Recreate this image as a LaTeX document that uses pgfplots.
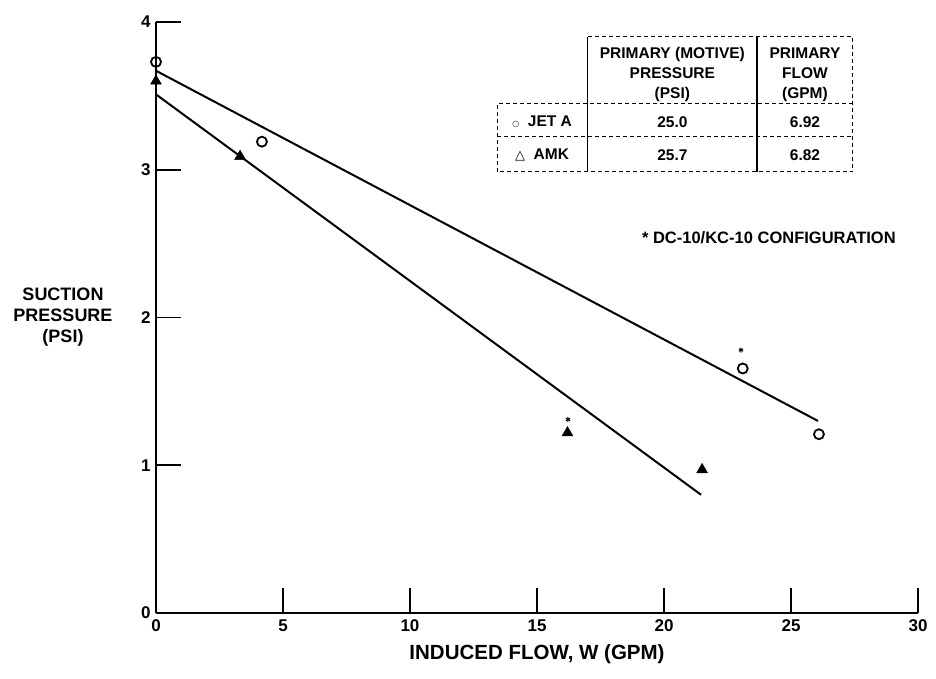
\documentclass[border=0pt]{standalone}
\usepackage{pgfplots}
\pgfplotsset{compat=1.18}
\usepackage{fontspec}
\setmainfont{Liberation Sans}
\newfontfamily\dejavu{DejaVu Sans}
\begin{document}
\begin{tikzpicture}[x=1pt,y=1pt]
\path[use as bounding box] (-156,-66) rectangle (780,613);
\begin{axis}[
  at={(0,0)}, anchor=south west,
  width=762pt, height=591pt, scale only axis,
  xmin=0,xmax=30,ymin=0,ymax=4,
  axis lines*=left,
  axis line style={line width=2pt},
  xtick={0,5,...,30}, ytick={0,1,2,3,4},
  tick align=inside,
  major tick length=25pt,
  tick style={line width=1.6pt, black},
  ticklabel style={font=\fontsize{17}{19}\selectfont\bfseries},
  xticklabel style={yshift=-3pt},
  yticklabel style={xshift=-2pt},
  /pgf/number format/assume math mode=true,
  clip=false,
  xlabel={INDUCED FLOW, W (GPM)},
  xlabel style={font=\fontsize{20.5}{23}\selectfont\bfseries, yshift=-6pt},
]
% fitted lines
\addplot[black, line width=2pt] coordinates {(0,3.67) (26.06,1.30)};
\addplot[black, line width=2pt] coordinates {(0,3.51) (21.46,0.80)};
% JET A data
\addplot[only marks, mark=o, mark size=5pt, mark options={line width=1.8pt, black}] coordinates {
(0,3.73) (4.17,3.19) (23.1,1.655) (26.1,1.21)};
% AMK data
\addplot[only marks, mark=triangle*, mark size=6.3pt, black] coordinates {
(0,3.60) (3.31,3.09) (16.2,1.22) (21.5,0.97)};
% DC-10/KC-10 flags
\addplot[only marks, mark=asterisk, mark size=2.5pt, mark options={line width=1pt}, black] coordinates {
(23.03,1.78) (16.22,1.31)};
% y label
\node[align=center, font=\fontsize{18}{21}\selectfont\bfseries] at (axis cs:0,2) [xshift=-93pt] {SUCTION\\PRESSURE\\(PSI)};
% note
\node[font=\fontsize{16.5}{18}\selectfont\bfseries] at (axis cs:24.13,2.54) {* DC-10/KC-10 CONFIGURATION};
% table frame
\draw[line width=1pt, dash pattern=on 4pt off 3pt] (axis cs:17.0,3.90) -- (axis cs:27.44,3.90) -- (axis cs:27.44,2.986) -- (axis cs:13.43,2.986) -- (axis cs:13.43,3.446) -- (axis cs:27.44,3.446);
\draw[line width=1pt, dash pattern=on 4pt off 3pt] (axis cs:13.43,3.223) -- (axis cs:27.44,3.223);
\draw[line width=1.2pt] (axis cs:17.0,3.90) -- (axis cs:17.0,2.986);
\draw[line width=1.2pt] (axis cs:23.66,3.90) -- (axis cs:23.66,2.986);
% table text
\begin{scope}[every node/.style={font=\fontsize{15.5}{20}\selectfont\bfseries, align=center}]
\node at (axis cs:20.33,3.645) {PRIMARY (MOTIVE)\\PRESSURE\\(PSI)};
\node at (axis cs:25.55,3.645) {PRIMARY\\FLOW\\(GPM)};
\node at (axis cs:15.2,3.323) {{\dejavu\mdseries\fontsize{8}{10}\selectfont ○}\ \ JET A};
\node at (axis cs:15.2,3.10) {{\dejavu\mdseries\fontsize{13}{15}\selectfont △}\ \ AMK};
\node at (axis cs:20.33,3.323) {25.0};
\node at (axis cs:25.55,3.323) {6.92};
\node at (axis cs:20.33,3.10) {25.7};
\node at (axis cs:25.55,3.10) {6.82};
\end{scope}
\end{axis}
\end{tikzpicture}
\end{document}
